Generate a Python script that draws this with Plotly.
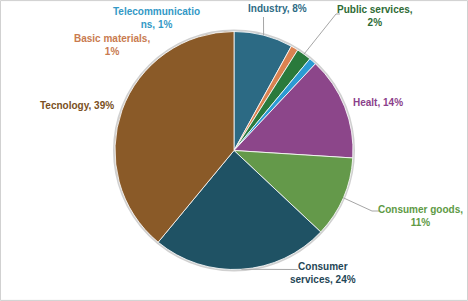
import math
import plotly.graph_objects as go

# ---- data ----
categories = ["Industry", "Basic materials", "Public services", "Telecommunications",
              "Healt", "Consumer goods", "Consumer services", "Tecnology"]
values = [8, 1, 2, 1, 14, 11, 24, 39]

# ---- styles ----
W, H = 468, 301
CX, CY, R = 234, 150.5, 119
slice_colors = ["#2C6A84", "#DA8250", "#2A7A3C", "#2B9BD3",
                "#8C468A", "#64994A", "#1F5264", "#8A5A28"]
label_colors = ["#2E6B85", "#C97B50", "#2E6B35", "#3399C6",
                "#8B3F8B", "#5E9A45", "#1F4656", "#7A4F22"]
label_text = {
    "Industry": "Industry, 8%",
    "Basic materials": "Basic materials,<br>1%",
    "Public services": "Public services,<br>2%",
    "Telecommunications": "Telecommunicatio<br>ns, 1%",
    "Healt": "Healt, 14%",
    "Consumer goods": "Consumer goods,<br>11%",
    "Consumer services": "Consumer<br>services, 24%",
    "Tecnology": "Tecnology, 39%",
}
label_pos = {
    "Industry": (277, 9),
    "Basic materials": (112, 45),
    "Public services": (375, 16),
    "Telecommunications": (156, 18),
    "Healt": (378, 102),
    "Consumer goods": (420, 216),
    "Consumer services": (323, 273),
    "Tecnology": (77, 106),
}
leaders = {
    "Industry": [(263.5, 17)],
    "Public services": [(336, 14), (340, 14)],
    "Consumer goods": [(372, 211), (379, 211)],
    "Consumer services": [(298, 269.5)],
}

def px(x):
    return x / W

def py(y):
    return 1 - y / H

fig = go.Figure(go.Pie(
    labels=categories, values=values, sort=False, direction="clockwise", rotation=0,
    marker=dict(colors=slice_colors, line=dict(color="white", width=0.8)),
    textinfo="none", hoverinfo="label+percent", showlegend=False,
    domain=dict(x=[px(CX - R), px(CX + R)], y=[py(CY + R), py(CY - R)]),
))

font_family = "Liberation Sans Narrow, Arial Narrow, Liberation Sans, Arial"
total = sum(values)
cum = 0
shapes = []
annotations = []
for cat, v, col in zip(categories, values, label_colors):
    mid = (cum + v / 2) / total * 2 * math.pi
    cum += v
    ex, ey = CX + R * math.sin(mid), CY - R * math.cos(mid)
    if cat in leaders:
        pts = [(ex, ey)] + leaders[cat]
        path = "M " + " L ".join(f"{px(x):.5f},{py(y):.5f}" for x, y in pts)
        shapes.append(dict(type="path", xref="paper", yref="paper", path=path,
                           line=dict(color="#A6A6A6", width=1)))
    lx, ly = label_pos[cat]
    annotations.append(dict(
        x=px(lx), y=py(ly), xref="paper", yref="paper", text=f"<b>{label_text[cat]}</b>",
        showarrow=False, xanchor="center", yanchor="middle", align="center",
        font=dict(family=font_family, size=10, color=col),
    ))

shapes.insert(0, dict(type="circle", xref="paper", yref="paper", layer="below",
                      x0=px(CX - R - 1), x1=px(CX + R + 1), y0=py(CY + R + 1), y1=py(CY - R - 1),
                      line=dict(color="#D0D0D0", width=2)))
shapes.append(dict(type="rect", xref="paper", yref="paper", x0=0.001, x1=0.999, y0=0.002, y1=0.998,
                   line=dict(color="#CFCFCF", width=1)))

fig.update_layout(
    width=W, height=H, margin=dict(l=0, r=0, t=0, b=0),
    paper_bgcolor="white", plot_bgcolor="white",
    shapes=shapes, annotations=annotations,
)
fig.write_html("out.html", config={"displayModeBar": False},
               post_script="document.body.style.margin='0';document.body.style.overflow='hidden';")
